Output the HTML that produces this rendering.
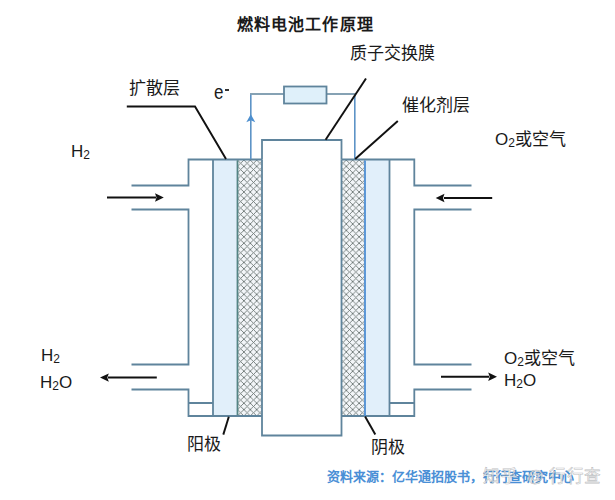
<!DOCTYPE html>
<html lang="zh-CN"><head><meta charset="utf-8">
<style>
html,body{margin:0;padding:0;background:#fff;}
body{width:615px;height:500px;overflow:hidden;position:relative;font-family:"Liberation Sans",sans-serif;}
svg{position:absolute;left:0;top:0;}
.t{position:absolute;white-space:nowrap;color:#1a1a1a;line-height:1;}
.title{font-weight:900;font-size:16px;letter-spacing:1.1px;}
.lbl{font-size:17px;font-weight:500;}
sub{font-size:12px;vertical-align:-2.2px;line-height:0;}
</style></head><body>
<svg width="615" height="500" viewBox="0 0 615 500">
<defs>
<pattern id="hatch" width="6.4" height="6.4" patternUnits="userSpaceOnUse" x="237.5" y="160">
<rect width="6.4" height="6.4" fill="#f3f6f9"/>
<path d="M0,0 L6.4,6.4 M6.4,0 L0,6.4" stroke="#67726f" stroke-width="0.85" fill="none"/>
</pattern>
</defs>
<g fill="none" stroke="#5f849c" stroke-width="1.8">
<!-- left diffusion -->
<rect x="213" y="159.5" width="24.5" height="256.5" fill="#e1effa" stroke="none"/>
<rect x="365" y="159.5" width="24.5" height="256.5" fill="#e1effa" stroke="none"/>
<rect x="237.5" y="159.5" width="24.5" height="256.5" fill="url(#hatch)" stroke="none"/>
<rect x="341.5" y="159.5" width="23.5" height="256.5" fill="url(#hatch)" stroke="none"/>
<!-- left housing -->
<path d="M131.5,185.5 H188.5 V159.5 H262 M131.5,209.5 H188.5 V364.5 H131.5 M131.5,389.5 H188.5 V416 H262 M188.5,403 H213 M213,159.5 V416"/><path d="M237.5,160.4 V415.1" stroke="#538484"/>
<!-- right housing -->
<path d="M471.5,185.5 H414.3 V159.5 H341.5 M471.5,209.5 H414.3 V364.5 H471.5 M471.5,389.5 H414.3 V416 H341.5 M414.3,403 H389.5 M389.5,159.5 V416"/><path d="M365,160.4 V416" stroke="#4f8fd4"/>
<!-- membrane -->
<path d="M262,416 V435.5 H341.5 V416 M262,159.5 V140 H341.5 V159.5"/><path d="M262,159.5 V416 M341.5,159.5 V416"/>
<!-- wire -->
<path d="M250,94 H284 M326.5,94 H355.6" stroke-width="1.6"/><path d="M250.8,159 V94.8 M354.8,94.8 V159" stroke-width="1.6" stroke="#5d93c6"/>
<rect x="284" y="86.5" width="42.5" height="17" fill="#dff0fa"/>
</g>
<path d="M250.8,114.3 L255.3,122.2 L250.8,120.2 L246.3,122.2 Z" fill="#4d8fcf"/>
<!-- black leaders -->
<g stroke="#111" stroke-width="1.95" fill="none">
<path d="M126.8,106.5 H195 L226,159"/>
<path d="M325.6,139.7 L366,78.5"/>
<path d="M355.2,158.9 L397.8,121"/>
<path d="M228.8,416.7 L223.3,434.6"/>
<path d="M365.1,416.4 L375.3,434.4"/>
<!-- arrows -->
<path d="M107,197.5 H156" stroke-width="2"/>
<path d="M492.2,198 H444" stroke-width="2"/>
<path d="M156.8,377.6 H108" stroke-width="2"/>
<path d="M441,376.8 H489" stroke-width="2"/>
</g>
<g fill="#111">
<path d="M163.8,197.5 L155,193.3 L156.5,197.5 L155,201.7 Z"/>
<path d="M435.7,198 L444.5,193.8 L443,198 L444.5,202.2 Z"/>
<path d="M100,377.6 L108.8,373.4 L107.3,377.6 L108.8,381.8 Z"/>
<path d="M497,376.8 L488.2,372.6 L489.7,376.8 L488.2,381 Z"/>
</g>
</svg>
<div class="t title" style="left:237px;top:17px;">燃料电池工作原理</div>
<div class="t lbl" style="left:350px;top:45.3px;">质子交换膜</div>
<div class="t lbl" style="left:129px;top:79.8px;">扩散层</div>
<div class="t lbl" style="left:402px;top:96.6px;">催化剂层</div>
<div class="t lbl" style="left:214px;top:85.2px;transform:scaleY(1.18);transform-origin:0 14px;">e</div><div style="position:absolute;left:225px;top:89.2px;width:3.6px;height:1.4px;background:#333;"></div>
<div class="t lbl" style="left:71px;top:143px;">H<sub>2</sub></div>
<div class="t lbl" style="left:495px;top:131px;">O<sub>2</sub>或空气</div>
<div class="t lbl" style="left:41px;top:347px;">H<sub>2</sub></div>
<div class="t lbl" style="left:40px;top:374px;">H<sub>2</sub>O</div>
<div class="t lbl" style="left:504px;top:350px;">O<sub>2</sub>或空气</div>
<div class="t lbl" style="left:504px;top:372px;">H<sub>2</sub>O</div>
<div class="t lbl" style="left:187px;top:436px;">阳极</div>
<div class="t lbl" style="left:371px;top:439px;">阴极</div>
<div class="t" style="left:327px;top:470px;font-size:13px;font-weight:bold;color:#4a8fd6;">资料来源：亿华通招股书，行行查研究中心</div>
<div class="t" style="left:483px;top:467.5px;font-size:16.5px;color:rgba(255,255,255,0.78);-webkit-text-stroke:0.6px rgba(120,125,130,0.5);letter-spacing:1px;">知乎</div><div class="t" style="left:527px;top:467.5px;font-size:16.5px;color:rgba(255,255,255,0.78);-webkit-text-stroke:0.6px rgba(120,125,130,0.5);">@</div><div class="t" style="left:549px;top:467.5px;font-size:16.5px;color:rgba(255,255,255,0.78);-webkit-text-stroke:0.6px rgba(120,125,130,0.5);letter-spacing:0.5px;">行行查</div>
</body></html>
